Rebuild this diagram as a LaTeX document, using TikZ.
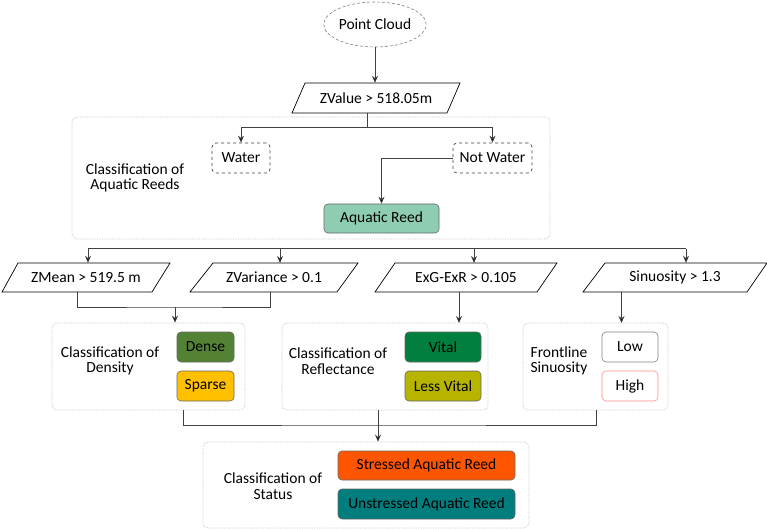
\documentclass[tikz,border=0pt]{standalone}
\usepackage{fontspec}
\setmainfont{Carlito}
\usetikzlibrary{arrows.meta,shapes.geometric}
\definecolor{lnc}{HTML}{404040}
\definecolor{grpc}{HTML}{C0C0C0}
\definecolor{aquac}{HTML}{8FCDB2}
\definecolor{densec}{HTML}{548235}
\definecolor{sparsec}{HTML}{FFC000}
\definecolor{vitalc}{HTML}{007F3F}
\definecolor{lessc}{HTML}{B7B400}
\definecolor{stressc}{HTML}{FF5500}
\definecolor{unstressc}{HTML}{007D7D}
\definecolor{highc}{HTML}{FF8C8C}
\tikzset{
  conn/.style={draw=lnc, line width=0.8pt},
  arr/.style={conn, -{Stealth[length=7pt,width=6pt,fill=black]}},
  grp/.style={draw=grpc, densely dotted, rounded corners=5pt, line width=0.7pt},
  dbox/.style={draw=lnc, dashed, rounded corners=4pt, line width=0.7pt, minimum height=30pt, inner sep=0pt},
  cbox/.style={draw=lnc!80, rounded corners=4pt, line width=0.6pt, inner sep=0pt},
  para/.style={draw=black, line width=0.7pt, fill=white},
  ptext/.style={inner sep=0pt, minimum height=29pt},
  lbl/.style={align=center, inner sep=0pt}
}
\begin{document}
\begin{tikzpicture}[x=1pt,y=-1pt, font=\fontsize{15.5}{15.5}\selectfont]
\useasboundingbox (0,0) rectangle (767,529);

% Point cloud
\node[ellipse, draw=gray, densely dashed, line width=0.6pt, minimum width=80pt, minimum height=45pt, inner sep=0pt] (pc) at (375,24.5) {Point Cloud};

% ZValue
\draw[para] (292,113) -- (305,83) -- (460,83) -- (447,113) -- cycle;
\node[ptext, minimum height=30pt] (zv) at (376,98) {ZValue > 518.05m};
\draw[arr] (pc.south) -- (pc.south |- zv.north);

% Group 1
\node[grp, minimum width=478pt, minimum height=122pt] (g1) at (311,178) {};
\node[lbl] (g1t) at (135,178) {Classification of\\Aquatic Reeds};
\node[dbox, minimum width=58pt] (water) at (241,158) {Water};
\node[dbox, minimum width=79pt] (nwater) at (492.5,158) {Not Water};
\node[cbox, fill=aquac, minimum width=115pt, minimum height=29pt] (reed) at (381.5,218.5) {Aquatic Reed};
\coordinate (s1) at (367,127.5);
\draw[conn] (zv.south -| s1) -- (s1);
\draw[arr] (s1) -| (water.north);
\draw[arr] (s1) -| (nwater.north);
\draw[arr] (nwater.west) -| (reed.north);

% distribution line
\coordinate (d1) at (88,248.5);
\coordinate (d4) at (686,248.5);
\draw[conn] (d1) -- (d4);

% Parallelograms row
\draw[para] (2,292) -- (18,263) -- (170,263) -- (152,292) -- cycle;
\node[ptext] (zm) at (86,277.5) {ZMean > 519.5 m};
\draw[para] (190,292) -- (213,263) -- (358,263) -- (337,292) -- cycle;
\node[ptext] (zvar) at (274,277.5) {ZVariance > 0.1};
\draw[para] (375,292) -- (395,263) -- (557,263) -- (537,292) -- cycle;
\node[ptext] (exg) at (466,277.5) {ExG-ExR > 0.105};
\draw[para] (583,292) -- (605,263) -- (767,263) -- (747,292) -- cycle;
\node[ptext] (sin) at (675,277.5) {Sinuosity > 1.3};

\draw[arr] (d1) -- (d1 |- zm.north);
\draw[arr] (280,248.5) -- (280,263);
\draw[arr] (474,248.5) -- (474,263);
\draw[arr] (d4) -- (d4 |- sin.north);

% Density group
\node[grp, minimum width=193pt, minimum height=87pt] (gd) at (148.5,366.5) {};
\node[lbl] (gdt) at (110,361) {Classification of\\Density};
\node[cbox, fill=densec, minimum width=57pt, minimum height=30pt] (dense) at (205.5,347) {Dense};
\node[cbox, fill=sparsec, minimum width=57pt, minimum height=30pt] (sparse) at (205.5,386) {Sparse};
\coordinate (j1) at (175,307);
\draw[conn] (77,292) |- (j1) -| (270,292);
\draw[arr] (j1) -- (j1 |- gd.north);

% Reflectance group
\node[grp, minimum width=206pt, minimum height=87pt] (gr) at (385,366.5) {};
\node[lbl] (grt) at (338,361) {Classification of\\Reflectance};
\node[cbox, fill=vitalc, minimum width=76pt, minimum height=30pt] (vital) at (443,347) {Vital};
\node[cbox, fill=lessc, minimum width=76pt, minimum height=30pt] (less) at (443,386) {Less Vital};
\draw[arr] (459,292) -- (459,323);

% Frontline group
\node[grp, minimum width=145pt, minimum height=87pt] (gf) at (595.5,366.5) {};
\node[lbl] (gft) at (559,361) {Frontline\\Sinuosity};
\node[cbox, draw=gray, minimum width=56pt, minimum height=30pt] (low) at (630,347) {Low};
\node[cbox, draw=highc, minimum width=56pt, minimum height=30pt] (high) at (630,386) {High};
\draw[arr] (621.5,292) -- (621.5,323);

% Status group
\node[grp, minimum width=326pt, minimum height=86pt] (gs) at (366,485) {};
\node[lbl] (gst) at (273,486) {Classification of\\Status};
\node[cbox, fill=stressc, minimum width=177pt, minimum height=29pt] (stress) at (426.5,465.5) {Stressed Aquatic Reed};
\node[cbox, fill=unstressc, minimum width=177pt, minimum height=30pt] (unstress) at (426.5,504) {Unstressed Aquatic Reed};
\coordinate (j2) at (378,425);
\draw[conn] (183,410) |- (j2) -| (596,410);
\draw[conn] (378,410) -- (j2);
\draw[arr] (j2) -- (j2 |- gs.north);
\end{tikzpicture}
\end{document}
